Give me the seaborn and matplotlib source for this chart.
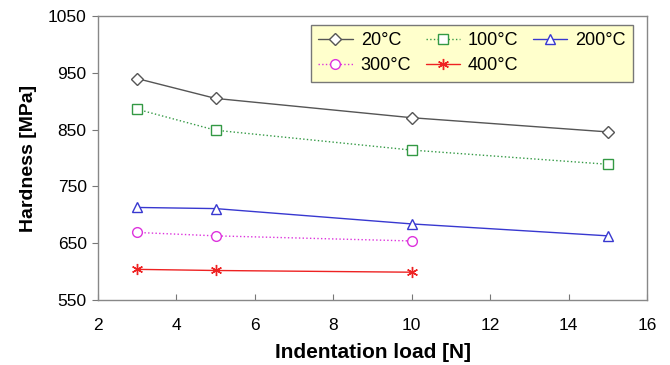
import pandas as pd
import numpy as np
import matplotlib
matplotlib.use("Agg")
import matplotlib.pyplot as plt
import seaborn as sns

# values
load_all = [3, 5, 10, 15]
load_short = [3, 5, 10]
h_20 = [940, 905, 871, 846]
h_100 = [886, 849, 814, 789]
h_200 = [713, 711, 684, 663]
h_300 = [669, 663, 654]
h_400 = [604, 602, 599]
labels = ["20°C", "100°C", "200°C", "300°C", "400°C"]

series = [
    (load_all, h_20, "#555555", "D", "-", 6.5),
    (load_all, h_100, "#339944", "s", ":", 6.5),
    (load_all, h_200, "#3838d0", "^", "-", 7.5),
    (load_short, h_300, "#dd33dd", "o", ":", 7),
    (load_short, h_400, "#ee2222", (6, 2, 0), "-", 8),
]

sns.set_style("white", {"text.color": "black", "axes.labelcolor": "black",
                        "xtick.color": "black", "ytick.color": "black"})
plt.rcParams["font.family"] = ["Liberation Sans", "DejaVu Sans"]

fig = plt.figure(figsize=(6.7, 3.65), dpi=100)
ax = fig.add_axes([0.146, 0.178, 0.82, 0.778])

for (x, y, col, mk, ls, ms), lab in zip(series, labels):
    df = pd.DataFrame({"load": x, "hardness": y})
    sns.lineplot(data=df, x="load", y="hardness", ax=ax, color=col, linestyle=ls,
                 linewidth=1.0, marker=mk, markersize=ms, markerfacecolor="white",
                 markeredgecolor=col, markeredgewidth=1.0, label=lab)

# row-major legend order (matplotlib fills columns first)
h, l = ax.get_legend_handles_labels()
order = [0, 3, 1, 4, 2]
leg = ax.legend([h[i] for i in order], [l[i] for i in order], ncol=3,
                loc="upper right", bbox_to_anchor=(0.9745, 0.968), borderaxespad=0,
                fontsize=13, frameon=True, fancybox=False, facecolor="#ffffcc",
                edgecolor="#777777", handlelength=1.9, columnspacing=0.8,
                handletextpad=0.45, borderpad=0.4, labelspacing=0.45)
leg.get_frame().set_linewidth(1.0)
leg.get_frame().set_alpha(1)

ax.set_xlim(2, 16)
ax.set_ylim(550, 1050)
ax.set_xticks(np.arange(2, 17, 2))
ax.set_yticks(np.arange(550, 1051, 100))
ax.tick_params(axis="y", direction="out", length=4, color="#777777", labelsize=12.5, pad=4)
ax.tick_params(axis="x", direction="in", length=4, color="#777777", labelsize=12.5, pad=13)
ax.tick_params(left=True, bottom=True)
for s in ax.spines.values():
    s.set_color("#888888")
    s.set_linewidth(1.0)

ax.set_xlabel("Indentation load [N]", fontsize=15, fontweight="bold", labelpad=7)
ax.set_ylabel("Hardness [MPa]", fontsize=14, fontweight="bold", labelpad=8)

fig.savefig("out.png", dpi=100)
